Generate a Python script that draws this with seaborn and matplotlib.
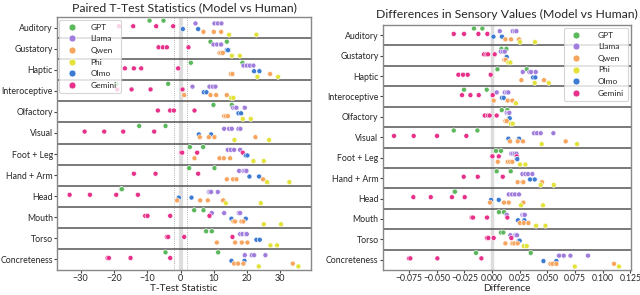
import pandas as pd
import seaborn as sns
import matplotlib.pyplot as plt
from matplotlib.lines import Line2D

sns.set_theme(style="white", context="paper")
plt.rcParams["font.family"] = ["Lato", "DejaVu Sans"]

categories = ["Auditory", "Gustatory", "Haptic", "Interoceptive", "Olfactory", "Visual",
              "Foot + Leg", "Hand + Arm", "Head", "Mouth", "Torso", "Concreteness"]

legend_order = ["GPT", "Llama", "Qwen", "Phi", "Olmo", "Gemini"]
dodge_order = ["GPT", "Llama", "Gemini", "Olmo", "Qwen", "Phi"]
colors = {"GPT": "#5cb85c", "Llama": "#a07ddc", "Qwen": "#f7a55e",
          "Phi": "#e2e23a", "Olmo": "#3d7bd3", "Gemini": "#e6308a"}

# t-test statistics, one list per category
t_gpt = [[-9.3, -5.1], [9.0, 13.9], [3.1, 18.6], [-19.2, -3.7], [9.9, 15.4], [-12.4, -4.5],
         [2.8, 6.8], [2.6, 10.2], [-17.8, -17.6], [4.1, 6.9], [7.7, 9.4], [-4.5, 11.3]]
t_llama = [[4.5, 10.2, 11.2, 12.3], [9.9, 11.0, 12.1, 12.2], [18.9, 19.9, 20.8, 21.9],
           [3.6, 8.7, 9.7, 10.5], [15.8, 16.4, 16.8, 19.3], [13.1, 14.6, 15.4, 17.4, 18.0],
           [14.2, 15.1, 16.1, 17.9], [17.6, 18.9, 19.4, 19.8], [8.5, 8.8, 9.2, 11.2],
           [9.4, 13.1, 17.5, 17.9], [17.9, 18.6, 19.6, 19.9], [19.3, 21.4, 22.1, 25.5]]
t_qwen = [[6.9, 10.0, 12.2], [11.7, 12.2, 12.7], [15.1, 15.6, 26.9], [1.1, 9.0, 10.7, 13.9],
          [13.1, 13.6, 14.2], [5.8, 8.5, 10.2, 22.5], [4.2, 11.7, 13.0, 14.9],
          [13.9, 15.8, 16.8, 24.8], [-1.0, 5.9, 8.2, 12.8], [15.9, 16.4, 18.3, 18.9],
          [10.9, 16.4, 18.4, 20.1], [16.1, 17.3, 18.9, 33.7]]
t_phi = [[14.6, 22.8], [15.4, 17.8], [23.1, 29.3], [15.2, 15.9], [18.7, 21.1], [16.2, 26.6],
         [21.9, 25.0], [26.0, 32.7], [13.6, 24.1], [25.0, 30.2], [27.0, 29.0], [23.5, 35.4]]
t_olmo = [[0.7, 5.3], [13.9, 14.3], [22.1, 23.7], [7.0, 7.8], [17.4, 18.2], [5.5, 9.2],
          [19.6, 20.1], [20.7, 23.6], [-0.5, 3.3], [15.3, 19.6], [22.8, 23.8], [15.3, 19.2]]
t_gemini = [[-18.5, -14.2, -7.3, -2.2], [-6.6, -5.3, -4.1, 2.4], [-16.7, -14.0, -11.8, -0.7],
            [-19.0, -14.7, -9.0, 0.6], [-6.8, -3.1, -2.0, 4.2], [-28.8, -22.9, -17.2, -7.9],
            [0.2, 0.5, 5.0, 18.7], [-14.0, -7.5, 5.3], [-33.3, -27.2, -19.3, -12.8],
            [-10.6, -9.9, -3.1, 8.7], [-4.1, -3.7, 1.1, 15.6], [-21.9, -21.5, -15.0, -3.1]]

# mean differences, one list per category
d_gpt = [[-0.0163, -0.0087], [0.0085, 0.0130], [0.0049, 0.0314], [-0.0253, -0.0048],
         [0.0088, 0.0139], [-0.0346, -0.0132], [0.0036, 0.0081], [0.0042, 0.0169],
         [-0.0340, -0.0335], [0.0063, 0.0108], [0.0081, 0.0103], [-0.0145, 0.0350]]
d_llama = [[0.0070, 0.0187, 0.0205, 0.0221], [0.0079, 0.0099, 0.0115], [0.0278, 0.0338, 0.0353, 0.0395],
           [0.0042, 0.0115, 0.0133, 0.0148], [0.0133, 0.0148, 0.0157], [0.0380, 0.0407, 0.0440, 0.0555],
           [0.0175, 0.0190, 0.0205, 0.0221], [0.0275, 0.0302, 0.0326, 0.0365],
           [0.0151, 0.0181, 0.0208, 0.0244], [0.0133, 0.0275, 0.0289, 0.0296],
           [0.0166, 0.0205, 0.0217, 0.0226], [0.0606, 0.0648, 0.0709, 0.0868]]
d_qwen = [[0.0121, 0.0172, 0.0244], [0.0112, 0.0124], [0.0266, 0.0470], [0.0015, 0.0142, 0.0184],
          [0.0121, 0.0133], [0.0163, 0.0232, 0.0280, 0.0666], [0.0052, 0.0142, 0.0163, 0.0184],
          [0.0232, 0.0275, 0.0284, 0.0452], [-0.0018, 0.0108, 0.0151, 0.0284],
          [0.0253, 0.0287, 0.0329], [0.0121, 0.0184, 0.0202, 0.0232], [0.0528, 0.0546, 0.0582, 0.1103]]
d_phi = [[0.0253, 0.0389], [0.0148, 0.0166], [0.0386, 0.0513], [0.0212, 0.0216], [0.0169, 0.0187],
         [0.0449, 0.0769], [0.0253, 0.0302], [0.0440, 0.0558], [0.0262, 0.0461], [0.0398, 0.0483],
         [0.0287, 0.0314], [0.0748, 0.1148]]
d_olmo = [[0.0013, 0.0090], [0.0130, 0.0133], [0.0371, 0.0392], [0.0090, 0.0106], [0.0154, 0.0160],
          [0.0148, 0.0244], [0.0223, 0.0229], [0.0344, 0.0386], [-0.0009, 0.0061], [0.0235, 0.0293],
          [0.0241, 0.0250], [0.0465, 0.0582]]
d_gemini = [[-0.0346, -0.0253, -0.0123, -0.0042], [-0.0072, -0.0051, -0.0036, 0.0024],
            [-0.0304, -0.0262, -0.0220, -0.0012], [-0.0271, -0.0195, -0.0120, 0.0006],
            [-0.0066, -0.0036, -0.0021, 0.0042], [-0.0886, -0.0708, -0.0497, -0.0232],
            [0.0001, 0.0004, 0.0061, 0.0223], [-0.0256, -0.0129, 0.0097],
            [-0.0711, -0.0554, -0.0362, -0.0247], [-0.0184, -0.0172, -0.0045, 0.0139],
            [-0.0045, -0.0033, 0.0015, 0.0175], [-0.0750, -0.0738, -0.0494, -0.0096]]


def to_long(series):
    rows = []
    for model, per_cat in series.items():
        for cat, vals in zip(categories, per_cat):
            for v in vals:
                rows.append({"model": model, "category": cat, "value": v})
    return pd.DataFrame(rows)


df_t = to_long({"GPT": t_gpt, "Llama": t_llama, "Qwen": t_qwen,
                "Phi": t_phi, "Olmo": t_olmo, "Gemini": t_gemini})
df_d = to_long({"GPT": d_gpt, "Llama": d_llama, "Qwen": d_qwen,
                "Phi": d_phi, "Olmo": d_olmo, "Gemini": d_gemini})

fig = plt.figure(figsize=(6.4, 2.95), dpi=100)
ax1 = fig.add_axes([0.089, 0.085, 0.397, 0.857])
ax2 = fig.add_axes([0.598, 0.085, 0.3875, 0.830])


def draw(ax, df):
    sns.stripplot(data=df, x="value", y="category", hue="model", order=categories,
                  hue_order=dodge_order, palette=colors, dodge=True, jitter=False,
                  size=3.6, linewidth=0.4, edgecolor="white", legend=False, ax=ax, zorder=3)
    for i in range(len(categories) - 1):
        ax.axhline(i + 0.5, color="#555555", lw=1.1, zorder=1)
    ax.set_ylabel("")
    ax.tick_params(axis="y", length=2, width=0.8, color="#444444", labelsize=6.3, pad=1, left=True)
    ax.tick_params(axis="x", length=2, width=0.8, color="#444444", labelsize=6.5, pad=1, bottom=True)
    for s in ax.spines.values():
        s.set_color("#888888")
        s.set_linewidth(1.0)


draw(ax1, df_t)
ax1.axvline(0, color="#dddddd", lw=3, zorder=0)
ax1.axvline(-1.96, color="#999999", lw=0.6, ls=":", zorder=0)
ax1.axvline(1.96, color="#999999", lw=0.6, ls=":", zorder=0)
ax1.set_xlim(-37.1, 39.2)
ax1.set_xticks([-30, -20, -10, 0, 10, 20, 30])
ax1.set_xlabel("T-Test Statistic", fontsize=7.3, labelpad=0.5)
ax1.set_title("Paired T-Test Statistics (Model vs Human)", fontsize=8.8, pad=4)

draw(ax2, df_d)
ax2.axvline(0, color="#dddddd", lw=2.5, zorder=0)
ax2.set_xlim(-0.0988, 0.1254)
ax2.set_xticks([-0.075, -0.05, -0.025, 0, 0.025, 0.05, 0.075, 0.1, 0.125])
ax2.set_xticklabels(["−0.075", "−0.050", "−0.025", "0.000", "0.025", "0.050", "0.075", "0.100", "0.125"])
ax2.tick_params(axis="x", labelsize=6.2)
ax2.set_xlabel("Difference", fontsize=7.3, labelpad=0.5)
ax2.set_title("Differences in Sensory Values (Model vs Human)", fontsize=8.8, pad=5)

handles = [Line2D([0], [0], marker="o", ls="", markersize=5, markerfacecolor=colors[m],
                  markeredgecolor="white", markeredgewidth=0.5, label=m) for m in legend_order]
ax1.legend(handles=handles, loc="upper left", fontsize=6, frameon=True,
           borderpad=0.5, labelspacing=0.55, handletextpad=1.2, borderaxespad=0.3)
ax2.legend(handles=handles, loc="upper right", fontsize=6, frameon=True,
           borderpad=0.5, labelspacing=0.55, handletextpad=1.6, borderaxespad=0.3)

plt.savefig("out.png", dpi=100)
plt.close()
